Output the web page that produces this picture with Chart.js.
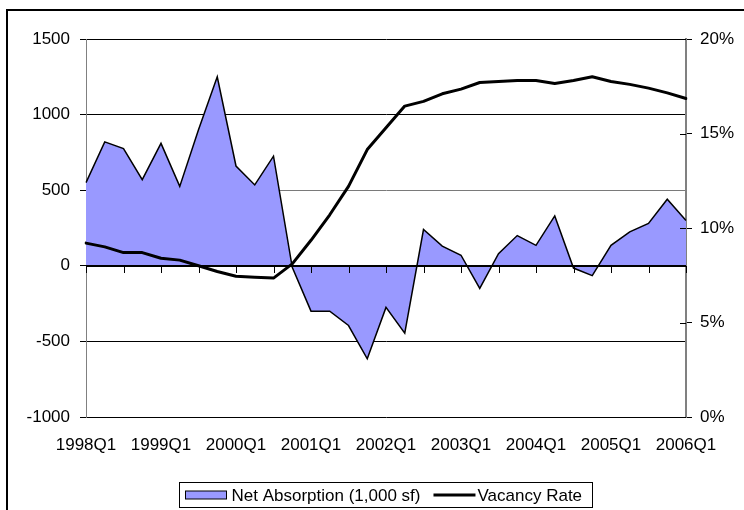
<!DOCTYPE html>
<html>
<head>
<meta charset="utf-8">
<script src="https://cdn.jsdelivr.net/npm/chart.js@4/dist/chart.umd.min.js"></script>
<style>
  html, body { margin: 0; padding: 0; background: #fff; }
  #wrap { position: relative; width: 744px; height: 510px; overflow: hidden; }
  #wrap canvas { position: absolute; left: 0; top: 0; }
  #frame { position: absolute; left: 6px; top: 9px; width: 800px; height: 600px;
           border: 2px solid #000; box-sizing: border-box; pointer-events: none; }
</style>
</head>
<body>
<div id="wrap">
  <div id="frame"></div>
  <canvas id="chart" width="744" height="510"></canvas>
</div>
<script>
// Quarterly office market series, 1998Q1 - 2006Q1
const quarters = [
  '1998Q1','1998Q2','1998Q3','1998Q4',
  '1999Q1','1999Q2','1999Q3','1999Q4',
  '2000Q1','2000Q2','2000Q3','2000Q4',
  '2001Q1','2001Q2','2001Q3','2001Q4',
  '2002Q1','2002Q2','2002Q3','2002Q4',
  '2003Q1','2003Q2','2003Q3','2003Q4',
  '2004Q1','2004Q2','2004Q3','2004Q4',
  '2005Q1','2005Q2','2005Q3','2005Q4',
  '2006Q1'
];
// Net absorption, thousands of square feet
const netAbsorption = [
  550, 820, 775, 570, 810, 525, 900, 1250, 660, 535, 725, -10,
  -300, -300, -395, -615, -275, -445, 240, 130, 70, -150,
  80, 200, 135, 330, -15, -65, 135, 225, 280, 440, 300
];
// Vacancy rate, percent
const vacancyRate = [
  9.2, 9.0, 8.7, 8.7, 8.4, 8.3, 8.0, 7.7, 7.45, 7.4, 7.35, 8.1,
  9.35, 10.7, 12.2, 14.15, 15.3, 16.45, 16.7, 17.1, 17.35, 17.7,
  17.75, 17.8, 17.8, 17.65, 17.8, 18.0, 17.75, 17.6, 17.4, 17.15, 16.85
];
const absorptionTicks = [-1000, -500, 0, 500, 1000, 1500];
const vacancyTicks = [0, 5, 10, 15, 20];
const labelledQuarters = ['1998Q1','1999Q1','2000Q1','2001Q1','2002Q1','2003Q1','2004Q1','2005Q1','2006Q1'];

const FONT_FAMILY = '"Liberation Sans", Arial, Helvetica, sans-serif';
const tickFont = { family: FONT_FAMILY, size: 17 };

// Zero baseline with category tick marks, drawn over the area but under the vacancy line
const axisMarks = {
  id: 'axisMarks',
  afterDatasetDraw(chart, args) {
    if (args.index !== 0) return;
    const { ctx, chartArea: a, scales: { x, y } } = chart;
    const y0 = Math.round(y.getPixelForValue(0));
    ctx.save();
    ctx.strokeStyle = '#000';
    ctx.lineWidth = 2;
    ctx.beginPath();
    ctx.moveTo(a.left, y0);
    ctx.lineTo(a.right, y0);
    ctx.stroke();
    ctx.lineWidth = 1;
    ctx.beginPath();
    for (let i = 0; i < quarters.length; i += 2) {
      const px = Math.round(x.getPixelForValue(i)) + 0.5;
      ctx.moveTo(px, y0);
      ctx.lineTo(px, y0 + 7);
    }
    ctx.stroke();
    ctx.restore();
  },
  afterDraw(chart) {
    const { ctx, chartArea: a, scales: { y1 } } = chart;
    ctx.save();
    // inner halves of the right-axis tick marks
    ctx.strokeStyle = '#000';
    ctx.lineWidth = 1;
    ctx.beginPath();
    vacancyTicks.forEach(v => {
      const py = Math.round(y1.getPixelForValue(v)) + 0.5;
      ctx.moveTo(a.right - 6, py);
      ctx.lineTo(a.right, py);
    });
    ctx.stroke();

    // legend box
    ctx.font = '17px ' + FONT_FAMILY;
    const t1 = chart.data.datasets[0].label;
    const t2 = chart.data.datasets[1].label;
    const w1 = ctx.measureText(t1).width;
    const w2 = ctx.measureText(t2).width;
    const pad = 6, sw = 41, g1 = 5, g2 = 13, lw = 42, g3 = 2;
    const total = pad + sw + g1 + w1 + g2 + lw + g3 + w2 + pad + 4;
    const cx = (a.left + a.right) / 2 - 1;
    const left = Math.round(cx - total / 2) + 0.5;
    const top = 482.5, h = 25;
    const mid = top + h / 2;
    ctx.strokeStyle = '#000';
    ctx.lineWidth = 1;
    ctx.strokeRect(left, top, Math.round(total), h);
    let xx = left + pad;
    ctx.fillStyle = '#9999FF';
    ctx.fillRect(xx, mid - 4, sw, 8);
    ctx.strokeRect(xx, mid - 4, sw, 8);
    xx += sw + g1;
    ctx.fillStyle = '#000';
    ctx.textBaseline = 'middle';
    ctx.textAlign = 'left';
    ctx.fillText(t1, xx, mid + 1);
    xx += w1 + g2;
    ctx.lineWidth = 3;
    ctx.beginPath();
    ctx.moveTo(xx, mid);
    ctx.lineTo(xx + lw, mid);
    ctx.stroke();
    xx += lw + g3;
    ctx.fillText(t2, xx, mid + 1);
    ctx.restore();
  }
};

new Chart(document.getElementById('chart').getContext('2d'), {
  type: 'line',
  data: {
    labels: quarters,
    datasets: [
      {
        label: 'Net Absorption (1,000 sf)',
        data: netAbsorption,
        yAxisID: 'y',
        fill: 'origin',
        backgroundColor: '#9999FF',
        borderColor: '#000',
        borderWidth: 1.5,
        pointRadius: 0,
        tension: 0,
        order: 2
      },
      {
        label: 'Vacancy Rate',
        data: vacancyRate,
        yAxisID: 'y1',
        fill: false,
        borderColor: '#000',
        borderWidth: 3,
        borderJoinStyle: 'round',
        borderCapStyle: 'round',
        pointRadius: 0,
        tension: 0,
        order: 1
      }
    ]
  },
  options: {
    responsive: false,
    animation: false,
    devicePixelRatio: 1,
    layout: { padding: { top: 39, left: 0, right: 0, bottom: 0 } },
    plugins: { legend: { display: false }, tooltip: { enabled: false } },
    scales: {
      x: {
        type: 'category',
        offset: false,
        grid: { display: false },
        border: { display: false },
        ticks: {
          autoSkip: false, maxRotation: 0, minRotation: 0,
          padding: 10, color: '#000', font: tickFont,
          callback: (v, i) => labelledQuarters.includes(quarters[i]) ? quarters[i] : ''
        },
        afterFit: s => { s.height = 93; }
      },
      y: {
        position: 'left',
        min: -1000, max: 1500,
        afterBuildTicks: s => { s.ticks = absorptionTicks.map(v => ({ value: v })); },
        ticks: { padding: 10, color: '#000', font: tickFont, callback: v => String(v) },
        grid: {
          color: c => (c.tick && c.tick.value === 500) ? '#7a7a7a' : '#000',
          lineWidth: 1, tickLength: 6, tickColor: '#000'
        },
        border: { color: '#808080', width: 1 },
        afterFit: s => { s.width = 86; }
      },
      y1: {
        position: 'right',
        min: 0, max: 20,
        afterBuildTicks: s => { s.ticks = vacancyTicks.map(v => ({ value: v })); },
        ticks: { padding: 8, color: '#000', font: tickFont, callback: v => v + '%' },
        grid: { drawOnChartArea: false, tickLength: 6, tickColor: '#000' },
        border: { color: '#808080', width: 2 },
        afterFit: s => { s.width = 58; }
      }
    }
  },
  plugins: [axisMarks]
});
</script>
</body>
</html>
